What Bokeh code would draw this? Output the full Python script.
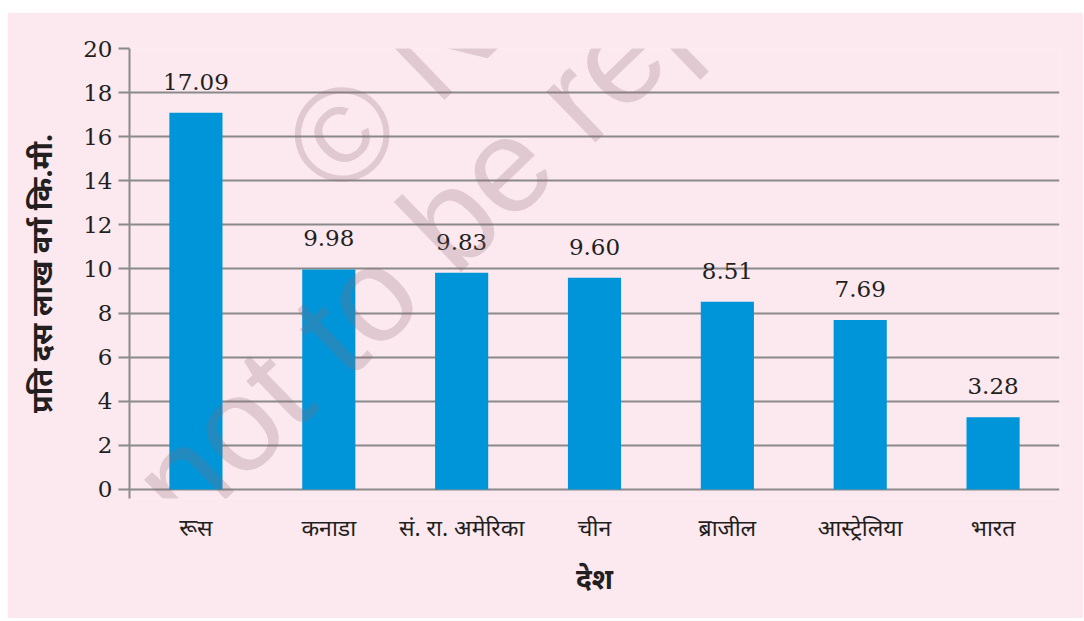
import math
from bokeh.plotting import figure
from bokeh.models import Range1d, FixedTicker, ColumnDataSource, LabelSet, Label
from bokeh.core.properties import value
from bokeh.embed import file_html
from bokeh.resources import INLINE

# ---- data ----
countries = ["रूस", "कनाडा", "सं. रा. अमेरिका", "चीन", "ब्राजील", "आस्ट्रेलिया", "भारत"]
area = [17.09, 9.98, 9.83, 9.60, 8.51, 7.69, 3.28]
area_labels = ["17.09", "9.98", "9.83", "9.60", "8.51", "7.69", "3.28"]
y_ticks = [0, 2, 4, 6, 8, 10, 12, 14, 16, 18, 20]
y_title = "प्रति दस लाख वर्ग कि.मी."
x_title = "देश"

PINK = "#fce8ef"
BLUE = "#0095d8"
GRID = "#8a8a8a"
TXT = "#231f20"

src = ColumnDataSource(dict(country=countries, area=area, lab=area_labels))

p = figure(
    x_range=countries, y_range=Range1d(-0.41, 20),
    width=1076, height=606,
    output_backend="svg", toolbar_location=None,
    min_border_left=122, min_border_right=24,
    min_border_top=36, min_border_bottom=120,
)
p.margin = (12, 0, 0, 7)
p.background_fill_color = PINK
p.border_fill_color = PINK
p.outline_line_color = None

p.vbar(x="country", top="area", bottom=0, width=0.4, source=src,
       fill_color=BLUE, line_color=None)

labels = LabelSet(x="country", y="area", text="lab", source=src,
                  y_offset=23, text_align="center", text_baseline="alphabetic",
                  text_font=value("DejaVu Serif"), text_font_size="23px", text_color=TXT)
p.add_layout(labels)

# grid
p.xgrid.grid_line_color = None
p.ygrid.grid_line_color = GRID
p.ygrid.grid_line_width = 2
p.yaxis.ticker = FixedTicker(ticks=y_ticks)

# y axis
ya = p.yaxis[0]
ya.axis_line_color = GRID
ya.axis_line_width = 2
ya.major_tick_line_color = GRID
ya.major_tick_line_width = 2
ya.major_tick_out = 11
ya.major_tick_in = 0
ya.minor_tick_line_color = None
ya.major_label_text_font = "DejaVu Serif"
ya.major_label_text_font_size = "23px"
ya.major_label_text_color = TXT
ya.major_label_standoff = 6
ya.axis_label = y_title
ya.axis_label_text_font = "Noto Sans"
ya.axis_label_text_font_style = "bold"
ya.axis_label_text_font_size = "29px"
ya.axis_label_text_color = TXT
ya.axis_label_standoff = 20

# x axis
xa = p.xaxis[0]
xa.axis_line_color = None
xa.major_tick_line_color = None
xa.minor_tick_line_color = None
xa.major_label_text_font = "Noto Sans"
xa.major_label_text_font_size = "23px"
xa.major_label_text_color = TXT
xa.major_label_standoff = 6
xa.axis_label = x_title
xa.axis_label_text_font = "Noto Sans"
xa.axis_label_text_font_style = "bold"
xa.axis_label_text_font_size = "28px"
xa.axis_label_text_color = TXT
xa.axis_label_standoff = 13

# faint watermark
ang = math.radians(44)
for txt, sx, sy in [("© NCERT", 177, 330), ("not to be republished", 25, -5)]:
    p.add_layout(Label(x=sx, y=sy, x_units="screen", y_units="screen", text=txt,
                       angle=ang, text_font="Liberation Sans", text_font_size="134px",
                       text_baseline="alphabetic",
                       text_color="#8a6a78", text_alpha=0.25, level="overlay"))

open("out.html", "w").write(file_html(p, INLINE))
